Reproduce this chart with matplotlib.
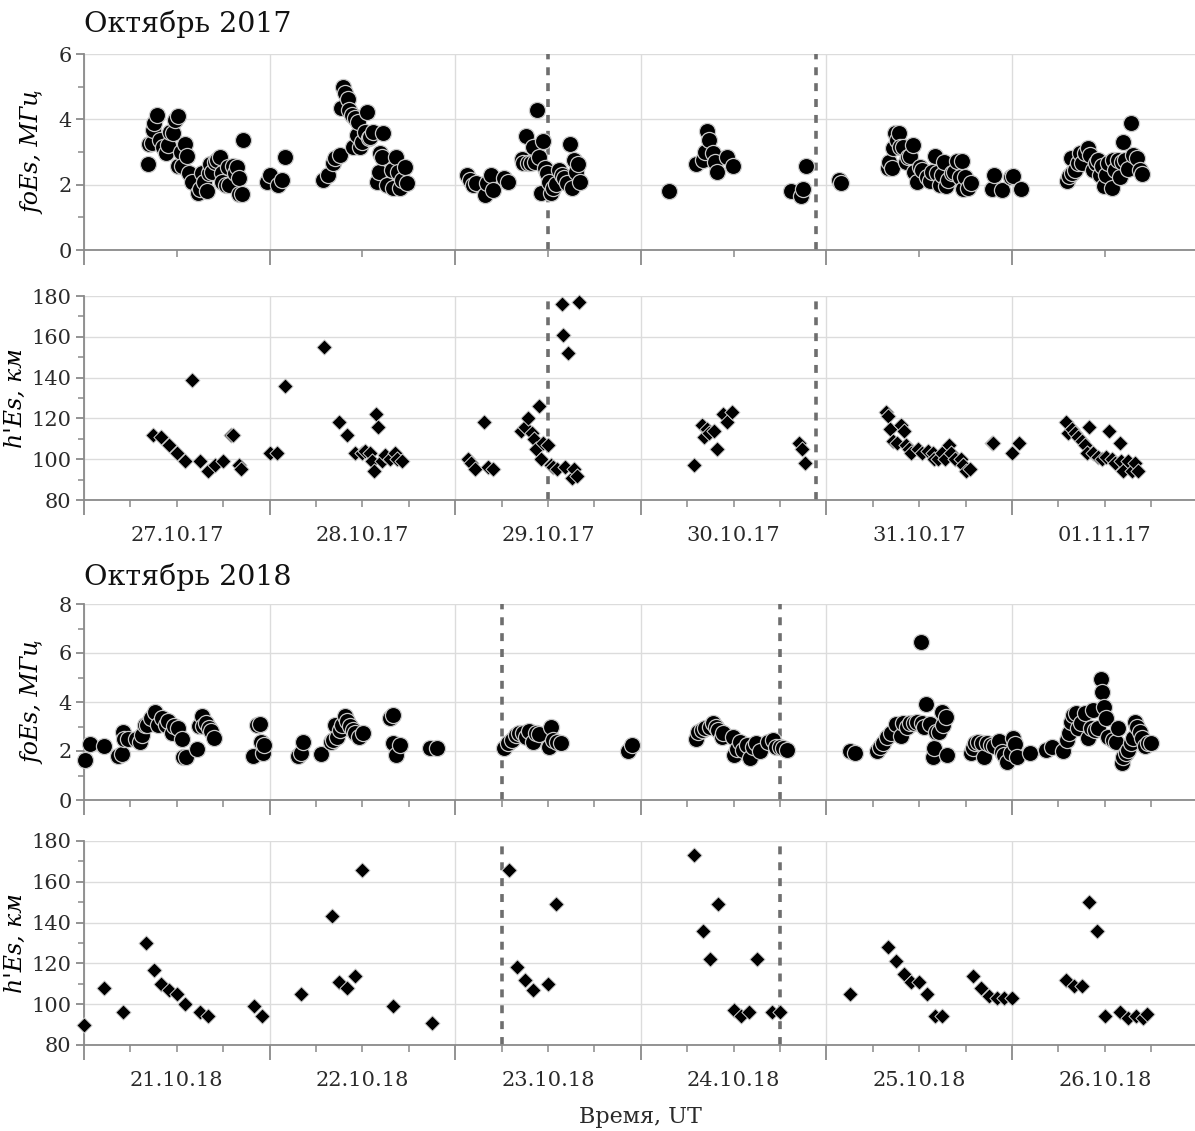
import numpy as np
import matplotlib
matplotlib.use("Agg")
import matplotlib.pyplot as plt

plt.rcParams['font.family'] = ['DejaVu Serif']

# hours since 00 UT of the first day
t17_f = [8.3, 8.4, 8.8, 8.9, 9.1, 9.4, 9.8, 10.2, 10.6, 10.9, 11.1, 11.5, 11.8, 12.1, 12.2, 12.6, 12.7, 13.1, 13.3, 13.6, 14.0, 14.8, 15.0, 15.2, 15.5, 15.9, 16.1, 16.3, 16.6, 16.9, 17.2, 17.6, 17.8, 17.9, 18.3, 18.6, 18.8, 19.3, 19.5, 19.8, 20.0, 20.1, 20.4, 20.6,
         23.6, 24.0, 25.1, 25.6, 26.0,
         30.9, 31.6, 32.2, 32.5, 33.1, 33.2, 33.5, 33.7, 34.1, 34.3, 34.6, 34.8, 35.0, 35.3, 35.4, 35.7, 35.9, 36.3, 36.6, 36.8, 37.0, 37.4, 37.9, 38.1, 38.3, 38.5, 38.7, 39.2, 39.8, 40.0, 40.3, 40.6, 40.9, 41.1, 41.5, 41.8,
         49.5, 49.9, 50.3, 50.7, 51.9, 52.1, 52.6, 52.9, 54.3, 54.8,
         56.6, 56.8, 57.1, 57.4, 57.8, 58.1, 58.3, 58.6, 58.8, 59.1, 59.4, 59.6, 59.9, 60.1, 60.4, 60.6, 61.0, 61.4, 61.8, 62.1, 62.5, 62.8, 63.1, 63.4, 63.6, 63.9, 64.1,
         75.6, 79.1, 80.0, 80.3, 80.6, 80.8, 81.3, 81.6, 81.9, 83.1, 83.9, 91.4, 92.7, 93.0, 93.4, 97.6, 97.9,
         104.0, 104.1, 104.5, 104.6, 104.9, 105.1, 105.4, 105.5, 105.9, 106.3, 106.6, 106.8, 107.2, 107.3, 107.7, 108.1, 108.4, 109.0, 109.4, 109.6, 110.0, 110.3, 110.7, 110.9, 111.2, 111.5, 111.7, 112.2, 112.5, 112.9, 113.3, 113.5, 113.7, 113.9, 114.3, 114.7, 117.4, 117.7, 118.7, 119.9, 120.1, 121.2,
         127.1, 127.4, 127.6, 127.7, 128.1, 128.5, 128.8, 129.0, 129.4, 129.8, 130.1, 130.5, 130.9, 131.1, 131.4, 131.6, 131.9, 132.1, 132.4, 132.9, 133.1, 133.3, 133.7, 134.0, 134.2, 134.3, 134.6, 135.0, 135.4, 135.6, 136.2, 136.5, 136.8]
foes17 = [2.63, 3.24, 3.27, 3.67, 3.89, 4.13, 3.37, 3.15, 2.97, 3.2, 3.6, 3.58, 3.98, 4.1, 2.57, 3.0, 2.57, 3.24, 2.88, 2.35, 2.08, 1.74, 1.87, 2.36, 2.08, 1.81, 2.36, 2.63, 2.39, 2.69, 2.75, 2.85, 2.36, 2.08, 1.99, 2.54, 1.99, 2.57, 2.36, 2.54, 1.71, 2.2, 1.71, 3.37,
          2.08, 2.3, 1.99, 2.14, 2.84,
          2.14, 2.3, 2.66, 2.81, 2.91, 4.35, 4.98, 4.81, 4.62, 4.28, 4.13, 3.15, 4.04, 3.52, 3.93, 3.15, 3.31, 3.61, 4.22, 3.42, 3.46, 3.61, 2.08, 2.39, 2.97, 2.85, 3.58, 1.99, 2.45, 1.90, 2.85, 2.39, 1.90, 2.14, 2.54, 2.05,
          2.30, 2.14, 1.99, 2.05, 1.68, 2.05, 2.3, 1.84, 2.2, 2.08,
          2.78, 2.66, 3.49, 2.66, 2.66, 3.15, 2.69, 4.28, 2.85, 1.74, 3.34, 2.51, 2.36, 2.08, 1.74, 1.9, 2.02, 2.45, 2.3, 2.2, 2.05, 3.24, 1.9, 2.75, 2.39, 2.63, 2.08,
          1.81, 2.63, 2.75, 3.0, 3.64, 3.37, 2.97, 2.69, 2.39, 2.85, 2.57, 1.81, 1.65, 1.87, 2.57, 2.14, 2.05,
          2.51, 2.69, 2.51, 3.12, 3.58, 3.37, 3.58, 3.15, 3.15, 2.69, 2.85, 2.88, 3.21, 2.39, 2.08, 2.54, 2.45, 2.23, 2.11, 2.39, 2.88, 2.36, 1.99, 2.3, 2.69, 1.96, 2.14, 2.36, 2.39, 2.72, 2.23, 2.72, 1.87, 2.23, 1.9, 2.05, 1.87, 2.3, 1.84, 2.23, 2.27, 1.87,
          2.11, 2.27, 2.81, 2.36, 2.45, 2.66, 2.97, 2.66, 2.97, 3.12, 2.91, 2.45, 2.66, 2.75, 2.3, 2.57, 1.96, 2.3, 2.66, 1.9, 2.75, 2.45, 2.75, 2.23, 2.69, 3.31, 2.75, 2.48, 3.89, 2.91, 2.81, 2.45, 2.33]

t17_h = [8.9, 10.0, 11.0, 12.0, 13.1, 14.0, 15.0, 16.0, 17.0, 18.0, 19.0, 19.3, 20.0, 20.3,
         24.0, 25.0, 26.0, 31.0, 33.0, 34.0, 35.0, 36.0, 36.3, 37.0, 37.2, 37.5, 37.8, 38.0, 38.5, 38.9, 39.6, 40.2, 40.5, 41.1,
         49.7, 50.0, 50.5, 51.7, 52.3, 52.9, 56.5, 57.0, 57.4, 57.9, 58.2, 58.4, 58.8, 59.1, 59.4, 60.0, 60.4, 60.7, 61.2, 61.8, 62.0, 62.2, 62.6, 63.1, 63.3, 63.7, 64.0,
         78.9, 79.9, 80.2, 80.5, 80.8, 81.5, 81.8, 82.6, 83.1, 83.8, 92.5, 92.8, 93.2,
         103.7, 104.0, 104.2, 104.6, 105.1, 105.6, 106.0, 106.3, 106.7, 106.9, 107.8, 108.4, 109.1, 109.8, 109.9, 110.4, 110.9, 111.3, 111.8, 112.1, 112.6, 113.4, 113.7, 114.1, 114.6, 117.4, 117.5, 120.0, 120.9,
         127.0, 127.3, 127.7, 128.1, 128.5, 129.0, 129.4, 129.7, 130.0, 130.5, 131.1, 131.6, 132.1, 132.5, 132.9, 133.3, 134.0, 134.1, 134.4, 135.0, 135.5, 135.9, 136.3]
hes17 = [112, 111, 107, 103, 99, 139, 99, 94, 97, 99, 112, 112, 97, 95,
         103, 103, 136, 155, 118, 112, 103, 103, 104, 103, 99, 94, 122, 116, 99, 102, 100, 103, 100, 99,
         100, 98, 95, 118, 96, 95, 114, 116, 120, 113, 110, 105, 126, 100, 108, 107, 97, 96, 95, 176, 161, 96, 152, 91, 95, 92, 177,
         97, 117, 111, 115, 113, 114, 105, 122, 118, 123, 108, 105, 98,
         123, 121, 115, 109, 108, 117, 114, 107, 105, 103, 105, 103, 104, 103, 100, 100, 103, 100, 107, 103, 100, 100, 97, 94, 95, 108, 108, 103, 108,
         118, 113, 115, 113, 111, 109, 107, 103, 116, 103, 101, 100, 101, 114, 100, 98, 108, 99, 94, 99, 94, 98, 94]

t18_f = [0.1, 0.8, 2.6, 4.4, 4.9, 5.0, 5.2, 5.7, 6.7, 7.2, 7.5, 7.9, 8.1, 8.6, 9.2, 9.6, 10.1, 10.6, 10.9, 11.4, 11.6, 12.2, 12.7, 12.8, 13.2, 14.6, 14.9, 15.2, 15.4, 15.8, 16.2, 16.4, 16.8, 21.9, 22.4, 22.7, 22.9, 23.1, 23.3,
         27.7, 28.1, 28.3, 30.6, 32.0, 32.2, 32.5, 32.7, 33.1, 33.4, 33.7, 34.0, 34.4, 34.8, 35.0, 35.6, 36.1, 39.6, 39.9, 40.0, 40.4, 40.8, 44.7, 45.6,
         54.3, 54.8, 55.3, 55.8, 56.2, 56.8, 57.2, 57.6, 58.1, 58.4, 58.8, 60.1, 60.4, 60.7, 61.1, 61.7, 70.4, 70.8,
         79.1, 79.4, 79.9, 80.3, 80.9, 81.4, 81.7, 82.0, 82.5, 82.6, 83.9, 84.1, 84.4, 84.8, 85.2, 85.7, 86.1, 86.5, 86.9, 87.4, 88.5, 89.1, 89.5, 90.0, 90.4, 90.9,
         99.0, 99.7, 102.5, 102.9, 103.3, 103.8, 104.3, 105.0, 105.6, 105.9, 106.4, 106.8, 107.3, 107.7, 108.2, 108.4, 108.6, 108.9, 109.4, 109.8, 109.9, 110.2, 110.6, 110.9, 111.1, 111.5, 111.6,
         114.7, 114.9, 115.2, 115.6, 116.1, 116.4, 116.8, 117.3, 117.7, 118.3, 118.7, 119.0, 119.4, 119.9, 120.1, 120.4, 120.6, 122.3, 124.4, 125.2,
         126.6, 127.1, 127.4, 127.6, 127.9, 128.3, 128.5, 128.9, 129.4, 129.8, 130.2, 130.5, 130.7, 131.1, 131.5, 131.6, 131.9, 132.1, 132.4, 133.1, 133.4, 133.7, 134.2, 134.3, 134.7, 135.0, 135.4, 135.6, 135.9, 136.2, 136.5, 136.8, 137.2, 137.6, 138.0]
foes18 = [1.63, 2.29, 2.2, 1.80, 1.88, 2.78, 2.49, 2.49, 2.49, 2.37, 2.65, 3.06, 3.06, 3.35, 3.59, 3.06, 3.35, 3.06, 3.22, 2.73, 3.02, 2.94, 2.49, 1.76, 1.76, 2.08, 3.02, 3.43, 3.02, 3.14, 2.94, 2.82, 2.53, 1.80, 3.06, 3.10, 2.37, 1.92, 2.24,
          1.80, 1.92, 2.37, 1.88, 2.37, 2.45, 3.06, 2.57, 2.86, 3.06, 3.43, 3.22, 3.02, 2.86, 2.73, 2.57, 2.73, 3.35, 3.47, 2.33, 1.84, 2.24, 2.12, 2.12,
          2.12, 2.33, 2.45, 2.65, 2.73, 2.73, 2.57, 2.82, 2.37, 2.73, 2.69, 2.16, 2.98, 2.45, 2.37, 2.33, 2.0, 2.24,
          2.49, 2.78, 2.86, 2.94, 2.98, 3.14, 2.98, 2.86, 2.57, 2.73, 2.57, 1.84, 2.08, 2.37, 2.04, 2.24, 1.71, 2.16, 2.33, 2.0, 2.37, 2.45, 2.16, 2.16, 2.12, 2.04,
          2.0, 1.92, 2.0, 2.16, 2.33, 2.57, 2.73, 3.10, 2.61, 3.14, 2.98, 3.14, 3.14, 3.18, 6.45, 3.14, 2.98, 3.92, 3.10, 1.76, 2.12, 2.78, 2.78, 3.59, 3.06, 3.39, 1.84,
          1.92, 2.12, 2.33, 2.37, 2.33, 1.76, 2.33, 2.24, 2.20, 2.41, 1.96, 1.84, 1.55, 1.92, 2.53, 2.29, 1.76, 1.92, 2.04, 2.16,
          2.0, 2.45, 2.73, 3.18, 3.47, 3.55, 2.94, 3.14, 3.55, 2.53, 2.94, 3.67, 2.86, 2.94, 4.94, 4.41, 3.80, 3.35, 2.57, 2.45, 2.37, 2.94, 1.51, 1.76, 1.92, 2.04, 2.33, 2.53, 3.18, 2.98, 2.78, 2.53, 2.20, 2.33, 2.33]

t18_h = [0, 2.6, 5, 8, 9.1, 10, 11, 12, 13.1, 15, 16, 22, 23, 28, 32.1, 33, 34, 35, 36, 40, 45,
         55, 56, 57, 58, 60, 61, 78.9, 80, 81, 82, 84, 85, 86, 87, 89, 90,
         99, 104, 105, 106, 107, 108, 109, 110, 111, 115, 116, 117, 118, 119, 120,
         127, 128, 129, 130, 131, 132, 134, 135, 136, 137, 137.5]
hes18 = [90, 108, 96, 130, 117, 110, 107, 105, 100, 96, 94, 99, 94, 105, 143, 111, 108, 114, 166, 99, 91,
         166, 118, 112, 107, 110, 149, 173, 136, 122, 149, 97, 94, 96, 122, 96, 96,
         105, 128, 121, 115, 111, 111, 105, 94, 94, 114, 108, 104, 103, 103, 103,
         112, 109, 109, 150, 136, 94, 96, 93, 94, 93, 95]

days17 = ['27.10.17', '28.10.17', '29.10.17', '30.10.17', '31.10.17', '01.11.17']
days18 = ['21.10.18', '22.10.18', '23.10.18', '24.10.18', '25.10.18', '26.10.18']
marks17 = [60.0, 94.6]
marks18 = [54.0, 90.0]

W, H = 1195, 1131
fig = plt.figure(figsize=(W / 100, H / 100), dpi=100)


def add_ax(top, bottom):
    left, right = 84, 84 + 6 * 185.6
    return fig.add_axes([left / W, 1 - bottom / H, (right - left) / W, (bottom - top) / H])


def style(ax, ylim, ymaj, ymin, xstep, labels):
    ax.set_xlim(0, 144)
    ax.set_ylim(*ylim)
    for s in ['top', 'right']:
        ax.spines[s].set_visible(False)
    for s in ['left', 'bottom']:
        ax.spines[s].set_color('#8a8a8a')
        ax.spines[s].set_linewidth(1.3)
    ax.set_yticks(ymaj)
    ax.set_yticks(ymin, minor=True)
    ax.set_xticks(np.arange(0, 145, 24))
    ax.set_xticklabels([])
    minor = [h for h in np.arange(xstep, 144, xstep) if h % 24 != 0]
    if labels:
        lab = [labels[int(h // 24)] if h % 24 == 12 else '' for h in minor]
    else:
        lab = ['' for h in minor]
    ax.set_xticks(minor, labels=lab, minor=True)
    ax.grid(True, which='major', color='#dcdcdc', lw=1)
    ax.set_axisbelow(True)
    ax.tick_params(axis='x', which='major', direction='out', length=11, width=1.3, color='#8a8a8a')
    ax.tick_params(axis='x', which='minor', direction='out', length=5, width=1.1, color='#8a8a8a',
                   labelsize=15, pad=14, labelcolor='#2a2a2a')
    ax.tick_params(axis='y', which='major', direction='out', length=6, width=1.3, color='#8a8a8a',
                   labelsize=15, labelcolor='#2a2a2a', pad=3)
    ax.tick_params(axis='y', which='minor', direction='out', length=4, width=1.1, color='#8a8a8a')


def foes_plot(ax, t, v):
    ax.scatter(t, v, s=135, marker='o', color='black', edgecolors='#c8c8c8', linewidths=0.9,
               zorder=3, clip_on=False)
    ax.set_ylabel('foEs, МГц', fontsize=17, fontstyle='italic', labelpad=10)


def hes_plot(ax, t, v):
    ax.scatter(t, v, s=60, marker='D', color='black', edgecolors='#d0d0d0', linewidths=0.7,
               zorder=3, clip_on=False)
    ax.set_ylabel("h'Es, км", fontsize=17, fontstyle='italic', labelpad=3)


def dashed(ax, xs):
    for x in xs:
        ax.axvline(x, color='#6e6e6e', lw=2.6, ls=(0, (2.2, 2.2)), zorder=2)


ax1 = add_ax(54, 250)
foes_plot(ax1, t17_f, foes17)
style(ax1, (0, 6), [0, 2, 4, 6], [1, 3, 5], 12, None)
dashed(ax1, marks17)

ax2 = add_ax(296, 500)
hes_plot(ax2, t17_h, hes17)
style(ax2, (80, 180), np.arange(80, 181, 20), np.arange(90, 180, 20), 6, days17)
dashed(ax2, marks17)

ax3 = add_ax(604, 800)
foes_plot(ax3, t18_f, foes18)
style(ax3, (0, 8), [0, 2, 4, 6, 8], [1, 3, 5, 7], 6, None)
dashed(ax3, marks18)

ax4 = add_ax(841, 1045)
hes_plot(ax4, t18_h, hes18)
style(ax4, (80, 180), np.arange(80, 181, 20), np.arange(90, 180, 20), 6, days18)
dashed(ax4, marks18)

fig.text(84 / W, 1 - 24 / H, 'Октябрь 2017', fontsize=20.5, va='center', ha='left', color='#111111')
fig.text(84 / W, 1 - 577 / H, 'Октябрь 2018', fontsize=20.5, va='center', ha='left', color='#111111')
fig.text(640 / W, 1 - 1117 / H, 'Время, UT', fontsize=16, va='center', ha='center', color='#2a2a2a')

fig.savefig('out.png', dpi=100)
